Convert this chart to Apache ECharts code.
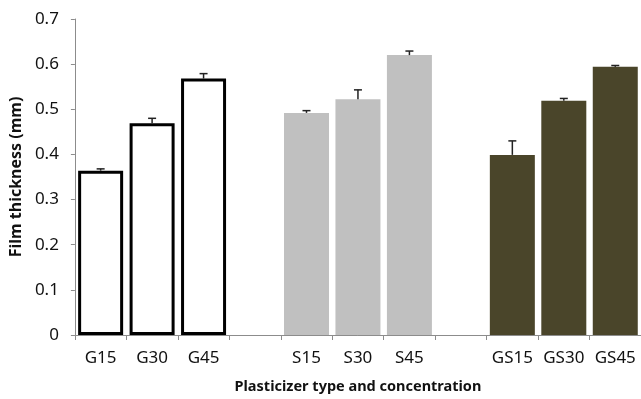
<!DOCTYPE html>
<html>
<head>
<meta charset="utf-8">
<script src="https://cdn.jsdelivr.net/npm/echarts@6/dist/echarts.min.js"></script>
<style>
html,body{margin:0;padding:0;background:#fff;}
#c{width:641px;height:399px;}
</style>
</head>
<body>
<div id="c"></div>
<script>
var categories = ['G15','G30','G45','','S15','S30','S45','','GS15','GS30','GS45'];
var gValues  = [0.364, 0.469, 0.568, '-', '-', '-', '-', '-', '-', '-', '-'];
var sValues  = ['-', '-', '-', '-', 0.492, 0.522, 0.620, '-', '-', '-', '-'];
var gsValues = ['-', '-', '-', '-', '-', '-', '-', '-', 0.399, 0.519, 0.594];
var errValues = [0.004, 0.011, 0.011, null, 0.005, 0.021, 0.009, null, 0.031, 0.005, 0.003];
var barValues = [0.364, 0.469, 0.568, null, 0.492, 0.522, 0.620, null, 0.399, 0.519, 0.594];
var xAxisTitle = 'Plasticizer type and concentration';
var yAxisTitle = 'Film thickness (mm)';

var errData = [];
for (var i = 0; i < categories.length; i++) {
  if (barValues[i] !== null) errData.push([i, barValues[i], barValues[i] + errValues[i]]);
}

var font = '"Noto Sans", sans-serif';
var chart = echarts.init(document.getElementById('c'));
chart.setOption({
  animation: false,
  grid: {left: 72, right: -3, top: 19, bottom: 63},
  xAxis: {
    type: 'category',
    data: categories,
    axisLine: {lineStyle: {color: '#8c8c8c', width: 1}},
    axisTick: {show: true, length: 5, interval: 0, lineStyle: {color: '#8c8c8c'}},
    axisLabel: {color: '#111', fontSize: 17, fontFamily: font, margin: 15, interval: 0, hideOverlap: false},
    name: xAxisTitle,
    nameLocation: 'middle',
    nameGap: 44,
    nameTextStyle: {color: '#111', fontSize: 14.5, fontWeight: 'bold', fontFamily: font}
  },
  yAxis: {
    type: 'value',
    min: 0, max: 0.7, interval: 0.1,
    axisLine: {show: true, lineStyle: {color: '#8c8c8c', width: 1}},
    axisTick: {show: true, length: 4, lineStyle: {color: '#8c8c8c'}},
    splitLine: {show: false},
    axisLabel: {color: '#111', fontSize: 17, fontFamily: font, margin: 16,
      formatter: function (v) { return String(Math.round(v * 10) / 10); }},
    name: yAxisTitle,
    nameLocation: 'middle',
    nameGap: 40,
    nameTextStyle: {color: '#111', fontSize: 16, fontWeight: 'bold', fontFamily: font}
  },
  series: [
    {type: 'bar', stack: 'a', data: gValues, barWidth: 45,
     itemStyle: {color: '#ffffff', borderColor: '#000', borderWidth: 3}},
    {type: 'bar', stack: 'a', data: sValues, barWidth: 45,
     itemStyle: {color: '#c0c0c0'}},
    {type: 'bar', stack: 'a', data: gsValues, barWidth: 45,
     itemStyle: {color: '#4a452a'}},
    {type: 'custom', data: errData, z: 10,
     renderItem: function (params, api) {
       var x = api.value(0);
       var p0 = api.coord([x, api.value(1)]);
       var p1 = api.coord([x, api.value(2)]);
       var hw = 4;
       return {type: 'group', children: [
         {type: 'line', shape: {x1: p0[0], y1: p0[1], x2: p1[0], y2: p1[1]}, style: {stroke: '#222', lineWidth: 1.5}},
         {type: 'line', shape: {x1: p1[0] - hw, y1: p1[1], x2: p1[0] + hw, y2: p1[1]}, style: {stroke: '#222', lineWidth: 1.5}}
       ]};
     }}
  ]
});
</script>
</body>
</html>
